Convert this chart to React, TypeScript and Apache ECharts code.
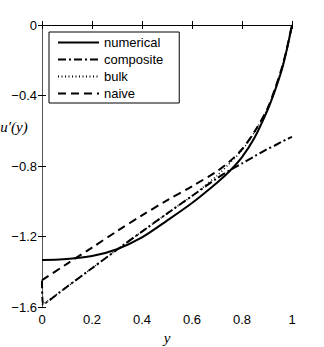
import React, { useEffect, useRef } from "react";
import * as echarts from "echarts";

const xs = [0, 0.005, 0.1, 0.2, 0.3, 0.4, 0.5, 0.6, 0.7, 0.75, 0.8, 0.85, 0.9, 0.93, 0.96, 0.98, 1];
const numerical = [-1.333, -1.333, -1.328, -1.311, -1.272, -1.205, -1.11, -1.01, -0.895, -0.83, -0.75, -0.64, -0.49, -0.38, -0.25, -0.135, 0];
const composite = [-1.45, -1.585, -1.485, -1.38, -1.275, -1.172, -1.07, -0.97, -0.87, -0.825, -0.785, -0.745, -0.705, -0.685, -0.662, -0.648, -0.635];
const bulk = [-1.59, -1.585, -1.485, -1.38, -1.275, -1.172, -1.07, -0.97, -0.855, -0.785, -0.71, -0.61, -0.48, -0.375, -0.245, -0.135, 0];
const naive = [-1.447, -1.443, -1.355, -1.263, -1.17, -1.08, -0.995, -0.915, -0.83, -0.775, -0.705, -0.605, -0.48, -0.37, -0.24, -0.13, 0];

const seriesNames = ["numerical", "composite", "bulk", "naive"];
const xTicks = [0, 0.2, 0.4, 0.6, 0.8, 1];
const yTicks = [-1.6, -1.2, -0.8, -0.4, 0];
const yTitle = "u\u2032(y)";
const xTitle = "y";

const FONT = "'Liberation Sans', Arial, Helvetica, sans-serif";
const SERIF = "'Liberation Serif', 'DejaVu Serif', serif";

export default function App() {
  const ref = useRef<HTMLDivElement>(null);
  useEffect(() => {
    if (!ref.current) return;
    const chart = echarts.init(ref.current, null, { renderer: "svg" });
    const pair = (ys: number[]) => xs.map((x, i) => [x, ys[i]]);
    const styles: any[] = [
      { type: "solid", width: 2 },
      { type: [8, 3, 2, 3], width: 2 },
      { type: [1, 2.5], width: 1.5 },
      { type: [8, 5], width: 2 },
    ];
    const datasets = [numerical, composite, bulk, naive];
    const yFmt = (v: number) => (Math.abs(v) < 1e-9 ? "0" : "\u2212" + Math.abs(v).toFixed(1));
    const axisCommon = {
      min: 0,
      max: 1,
      interval: 0.2,
      splitLine: { show: false },
      axisTick: { inside: true, length: 4, lineStyle: { color: "#000" } },
    };
    chart.setOption({
      animation: false,
      backgroundColor: "#fff",
      grid: { left: 42, right: 32, top: 25, bottom: 40, show: false, outerBoundsMode: "none", containLabel: false },
      legend: {
        left: 49,
        top: 32,
        orient: "vertical",
        data: seriesNames,
        itemWidth: 41,
        itemHeight: 14,
        itemGap: 4,
        padding: [4, 16, 3, 8],
        borderColor: "#000",
        borderWidth: 1,
        backgroundColor: "#fff",
        itemStyle: { opacity: 0 },
        textStyle: { color: "#000", fontSize: 13, fontFamily: FONT },
      },
      graphic: [
        {
          type: "text",
          x: 14,
          y: 127,
          style: {
            text: yTitle,
            fill: "#000",
            font: `italic 15px ${SERIF}`,
            textAlign: "center",
            textVerticalAlign: "middle",
          },
        },
      ],
      xAxis: [
        {
          type: "value",
          position: "bottom",
          ...axisCommon,
          axisLine: { lineStyle: { color: "#000", width: 1 } },
          axisLabel: {
            color: "#000",
            fontSize: 13,
            fontFamily: FONT,
            margin: 6,
            customValues: xTicks,
            formatter: (v: number) => String(+v.toFixed(1)),
          },
          name: xTitle,
          nameLocation: "middle",
          nameGap: 23,
          nameMoveOverlap: false,
          nameTextStyle: {
            color: "#000",
            fontSize: 15,
            fontStyle: "italic",
            fontFamily: SERIF,
          },
        },
        {
          type: "value",
          position: "top",
          ...axisCommon,
          axisLine: { lineStyle: { color: "#000", width: 1 } },
          axisLabel: { show: false },
        },
      ],
      yAxis: [
        {
          type: "value",
          position: "left",
          min: -1.6,
          max: 0,
          interval: 0.4,
          splitLine: { show: false },
          axisTick: { inside: true, length: 4, lineStyle: { color: "#000" } },
          axisLine: { show: true, lineStyle: { color: "#777", width: 1 } },
          axisLabel: {
            color: "#000",
            fontSize: 13,
            fontFamily: FONT,
            margin: 5,
            customValues: yTicks,
            formatter: yFmt,
          },
        },
        {
          type: "value",
          position: "right",
          min: -1.6,
          max: 0,
          interval: 0.4,
          splitLine: { show: false },
          axisTick: { inside: true, length: 4, lineStyle: { color: "#000" } },
          axisLine: { show: true, lineStyle: { color: "#555", width: 1 } },
          axisLabel: { show: false },
        },
      ],
      series: seriesNames.map((name, i) => ({
        name,
        type: "line",
        xAxisIndex: 0,
        yAxisIndex: 0,
        data: pair(datasets[i]),
        showSymbol: false,
        symbol: "none",
        smooth: 0.3,
        color: "#000",
        lineStyle: { color: "#000", ...styles[i] },
        z: 10 - i,
      })),
    });
    return () => chart.dispose();
  }, []);
  return (
    <div
      ref={ref}
      style={{ position: "fixed", left: 0, top: 0, width: 324, height: 347, background: "#fff" }}
    />
  );
}
